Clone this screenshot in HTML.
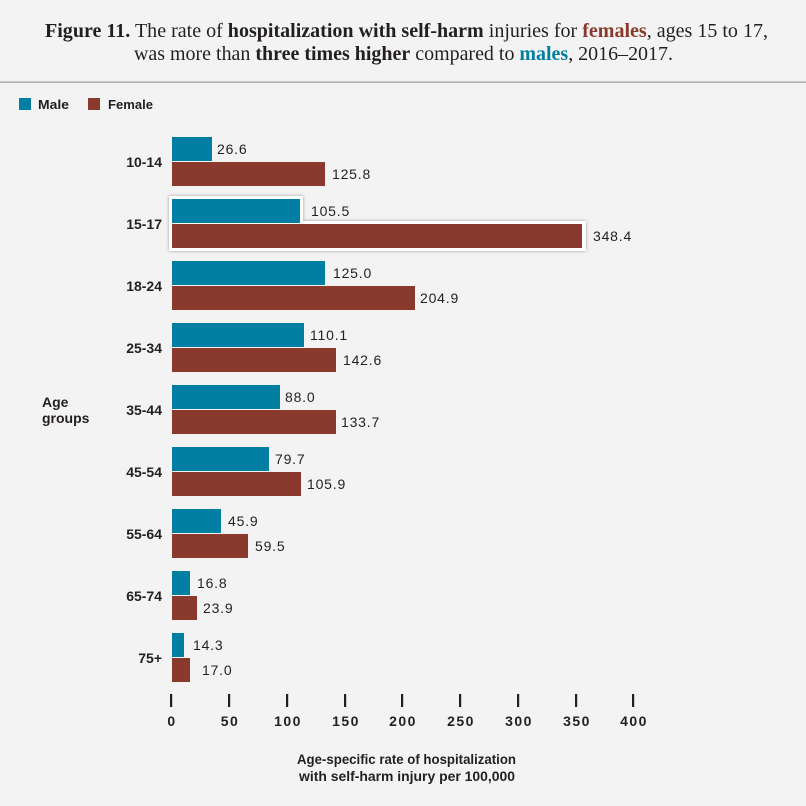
<!DOCTYPE html>
<html><head><meta charset="utf-8"><style>
html,body{margin:0;padding:0;background:#f3f3f3;}
svg{display:block;}
</style></head><body>
<svg width="806" height="806" viewBox="0 0 806 806" xmlns="http://www.w3.org/2000/svg">
<defs>
<filter id="sh" x="-10%" y="-30%" width="120%" height="160%">
<feDropShadow dx="0" dy="0" stdDeviation="1.6" flood-color="#888" flood-opacity="0.8"/>
</filter>
</defs>
<rect width="806" height="806" fill="#f3f3f3"/>
<g font-family="'Liberation Serif', serif" font-size="20" fill="#231f20">
<text x="45" y="37" textLength="723" lengthAdjust="spacingAndGlyphs"><tspan font-weight="bold">Figure 11.</tspan> The rate of <tspan font-weight="bold">hospitalization with self-harm</tspan> injuries for <tspan font-weight="bold" fill="#8a3a2c">females</tspan>, ages 15 to 17,</text>
<text x="134" y="60" textLength="539" lengthAdjust="spacingAndGlyphs">was more than <tspan font-weight="bold">three times higher</tspan> compared to <tspan font-weight="bold" fill="#007fa2">males</tspan>, 2016–2017.</text>
</g>
<rect x="0" y="81.5" width="806" height="1.2" fill="#999"/>
<g font-family="'Liberation Sans', sans-serif" font-size="13" font-weight="bold" fill="#231f20">
<rect x="19" y="98" width="12" height="12" fill="#007fa2"/>
<text x="38" y="109" textLength="31" lengthAdjust="spacingAndGlyphs">Male</text>
<rect x="88" y="98" width="12" height="12" fill="#8a3a2c"/>
<text x="108" y="109" textLength="45" lengthAdjust="spacingAndGlyphs">Female</text>
</g>
<g filter="url(#sh)" fill="#fff">
<rect x="169" y="196" width="134" height="30"/>
<rect x="169" y="221" width="417" height="30"/>
</g>
<g>
<rect x="172" y="137" width="40" height="24" fill="#007fa2"/><rect x="172" y="162" width="153" height="24" fill="#8a3a2c"/>
<rect x="172" y="199" width="128" height="24" fill="#007fa2"/><rect x="172" y="224" width="410" height="24" fill="#8a3a2c"/>
<rect x="172" y="261" width="153" height="24" fill="#007fa2"/><rect x="172" y="286" width="243" height="24" fill="#8a3a2c"/>
<rect x="172" y="323" width="132" height="24" fill="#007fa2"/><rect x="172" y="348" width="164" height="24" fill="#8a3a2c"/>
<rect x="172" y="385" width="108" height="24" fill="#007fa2"/><rect x="172" y="410" width="164" height="24" fill="#8a3a2c"/>
<rect x="172" y="447" width="97" height="24" fill="#007fa2"/><rect x="172" y="472" width="129" height="24" fill="#8a3a2c"/>
<rect x="172" y="509" width="49" height="24" fill="#007fa2"/><rect x="172" y="534" width="76" height="24" fill="#8a3a2c"/>
<rect x="172" y="571" width="18" height="24" fill="#007fa2"/><rect x="172" y="596" width="25" height="24" fill="#8a3a2c"/>
<rect x="172" y="633" width="12" height="24" fill="#007fa2"/><rect x="172" y="658" width="18" height="24" fill="#8a3a2c"/>
</g>
<g font-family="'Liberation Sans', sans-serif" font-size="14" fill="#231f20" letter-spacing="0.8">
<text x="217" y="154">26.6</text><text x="332" y="179">125.8</text>
<text x="311" y="216">105.5</text><text x="593" y="241">348.4</text>
<text x="333" y="278">125.0</text><text x="420" y="303">204.9</text>
<text x="310" y="340">110.1</text><text x="343" y="365">142.6</text>
<text x="285" y="402">88.0</text><text x="341" y="427">133.7</text>
<text x="275" y="464">79.7</text><text x="307" y="489">105.9</text>
<text x="228" y="526">45.9</text><text x="255" y="551">59.5</text>
<text x="197" y="588">16.8</text><text x="203" y="613">23.9</text>
<text x="193" y="650">14.3</text><text x="202" y="675">17.0</text>
</g>
<g font-family="'Liberation Sans', sans-serif" font-size="14" font-weight="bold" fill="#231f20" text-anchor="end">
<text x="162" y="167">10-14</text>
<text x="162" y="229">15-17</text>
<text x="162" y="291">18-24</text>
<text x="162" y="353">25-34</text>
<text x="162" y="415">35-44</text>
<text x="162" y="477">45-54</text>
<text x="162" y="539">55-64</text>
<text x="162" y="601">65-74</text>
<text x="162" y="663">75+</text>
</g>
<g font-family="'Liberation Sans', sans-serif" font-size="14" font-weight="bold" fill="#231f20">
<text x="42" y="407">Age</text>
<text x="42" y="423">groups</text>
</g>
<g fill="#231f20">
<rect x="170" y="694" width="2.2" height="13"/>
<rect x="228" y="694" width="2.2" height="13"/>
<rect x="286" y="694" width="2.2" height="13"/>
<rect x="344" y="694" width="2.2" height="13"/>
<rect x="401" y="694" width="2.2" height="13"/>
<rect x="459" y="694" width="2.2" height="13"/>
<rect x="517" y="694" width="2.2" height="13"/>
<rect x="575" y="694" width="2.2" height="13"/>
<rect x="632" y="694" width="2.2" height="13"/>
</g>
<g font-family="'Liberation Sans', sans-serif" font-size="14" font-weight="bold" fill="#231f20" text-anchor="middle" letter-spacing="1.5">
<text x="172" y="726">0</text>
<text x="230" y="726">50</text>
<text x="288" y="726">100</text>
<text x="346" y="726">150</text>
<text x="403" y="726">200</text>
<text x="461" y="726">250</text>
<text x="519" y="726">300</text>
<text x="577" y="726">350</text>
<text x="634" y="726">400</text>
</g>
<g font-family="'Liberation Sans', sans-serif" font-size="14" font-weight="bold" fill="#231f20">
<text x="297" y="764" textLength="219" lengthAdjust="spacingAndGlyphs">Age-specific rate of hospitalization</text>
<text x="299" y="781" textLength="216" lengthAdjust="spacingAndGlyphs">with self-harm injury per 100,000</text>
</g>
</svg>
</body></html>
